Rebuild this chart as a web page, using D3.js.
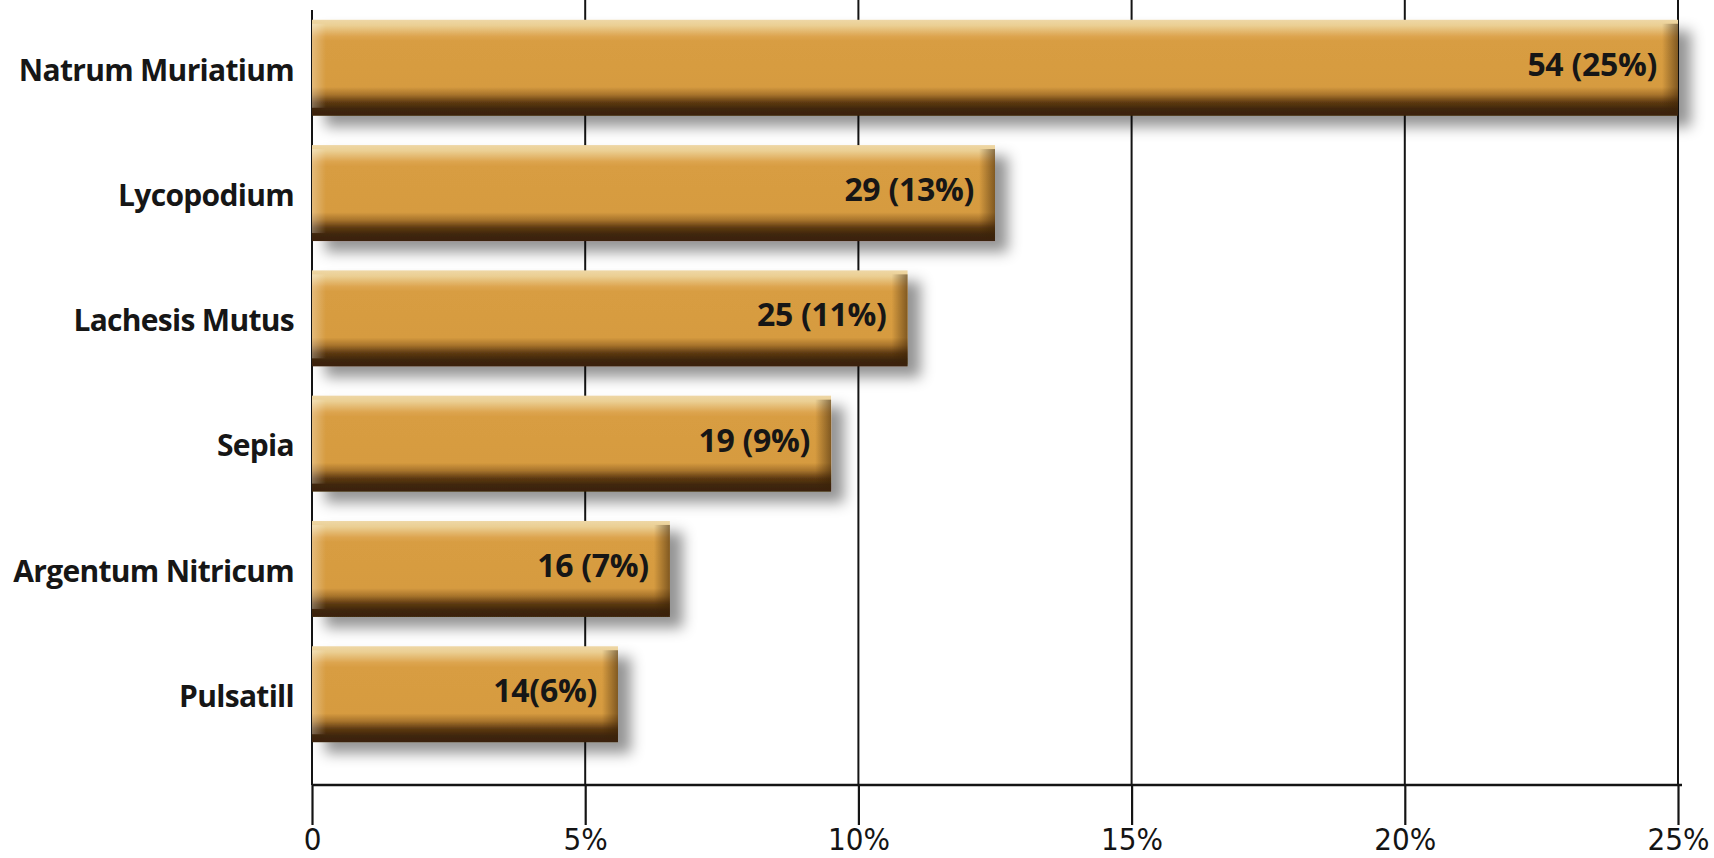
<!DOCTYPE html>
<html>
<head>
<meta charset="utf-8">
<script src="https://cdn.jsdelivr.net/npm/d3@7"></script>
<style>
  html, body { margin: 0; padding: 0; background: #fff; }
  svg { display: block; }
</style>
</head>
<body>
<svg id="chart" width="1714" height="858"></svg>
<script>
const categories = ["Natrum Muriatium", "Lycopodium", "Lachesis Mutus", "Sepia", "Argentum Nitricum", "Pulsatill"];
const barPercent = [25, 12.5, 10.9, 9.5, 6.55, 5.6];
const valueLabels = ["54 (25%)", "29 (13%)", "25 (11%)", "19 (9%)", "16 (7%)", "14(6%)"];
const tickValues = [0, 5, 10, 15, 20, 25];
const tickLabels = ["0", "5%", "10%", "15%", "20%", "25%"];

const W = 1714, H = 858;
const svg = d3.select("#chart");
const axisY = 785;

const x = d3.scaleLinear().domain([0, 25]).range([312, 1678]);
const y = d3.scaleBand().domain(categories).range([6, 756]).paddingInner(0.234).paddingOuter(0.11);

const defs = svg.append("defs");
const vg = defs.append("linearGradient").attr("id", "vgrad").attr("x1", 0).attr("y1", 0).attr("x2", 0).attr("y2", 1);
[[0, "#eed7a6"], [0.06, "#ebcf93"], [0.17, "#dda550"], [0.22, "#d89d42"], [0.70, "#d69b40"], [0.78, "#a8742c"], [0.86, "#5e3a12"], [0.93, "#3f2608"], [1, "#3a2207"]]
  .forEach(([o, c]) => vg.append("stop").attr("offset", o).attr("stop-color", c));
const lg = defs.append("linearGradient").attr("id", "lgrad").attr("x1", 0).attr("y1", 0).attr("x2", 1).attr("y2", 0);
lg.append("stop").attr("offset", 0).attr("stop-color", "#fff").attr("stop-opacity", 0.3);
lg.append("stop").attr("offset", 1).attr("stop-color", "#fff").attr("stop-opacity", 0);
const rg = defs.append("linearGradient").attr("id", "rgrad").attr("x1", 0).attr("y1", 0).attr("x2", 1).attr("y2", 0);
rg.append("stop").attr("offset", 0).attr("stop-color", "#3a2207").attr("stop-opacity", 0);
rg.append("stop").attr("offset", 1).attr("stop-color", "#3a2207").attr("stop-opacity", 0.55);
const f = defs.append("filter").attr("id", "shadow").attr("x", "-10%").attr("y", "-30%").attr("width", "130%").attr("height", "180%");
f.append("feDropShadow").attr("dx", 13).attr("dy", 11).attr("stdDeviation", 7)
  .attr("flood-color", "#000").attr("flood-opacity", 0.42);

// grid lines
svg.append("g").selectAll("line").data(tickValues).join("line")
  .attr("x1", d => x(d)).attr("x2", d => x(d))
  .attr("y1", d => d === 0 ? 10 : 0).attr("y2", axisY)
  .attr("stroke", "#141414").attr("stroke-width", 2);

// bars
const data = categories.map((c, i) => ({ c, v: barPercent[i], lab: valueLabels[i] }));
const bw = y.bandwidth();
const bars = svg.append("g").selectAll("g").data(data).join("g");
bars.append("rect")
  .attr("x", x(0)).attr("y", d => y(d.c))
  .attr("width", d => x(d.v) - x(0)).attr("height", bw)
  .attr("fill", "url(#vgrad)").attr("filter", "url(#shadow)");
bars.append("rect")
  .attr("x", x(0)).attr("y", d => y(d.c) + 4)
  .attr("width", 14).attr("height", bw - 12)
  .attr("fill", "url(#lgrad)");
bars.append("rect")
  .attr("x", d => x(d.v) - 16).attr("y", d => y(d.c) + 4)
  .attr("width", 16).attr("height", bw - 6)
  .attr("fill", "url(#rgrad)");

bars.append("text")
  .attr("x", d => x(d.v) - 21)
  .attr("y", d => y(d.c) + bw / 2 - 3.5)
  .attr("dy", "0.36em")
  .attr("text-anchor", "end")
  .attr("font-family", "'Open Sans', sans-serif")
  .attr("font-weight", 700)
  .attr("font-size", 32)
  .attr("letter-spacing", -0.3)
  .attr("fill", "#161616")
  .text(d => d.lab);

// category labels
svg.append("g").selectAll("text").data(categories).join("text")
  .attr("x", 294)
  .attr("y", d => y(d) + bw / 2 + 2)
  .attr("dy", "0.36em")
  .attr("text-anchor", "end")
  .attr("font-family", "'Open Sans', sans-serif")
  .attr("font-weight", 700)
  .attr("font-size", 30)
  .attr("letter-spacing", -0.7)
  .attr("fill", "#161616")
  .text(d => d);

// x axis
const axis = d3.axisBottom(x).tickValues(tickValues)
  .tickFormat((d, i) => tickLabels[i]).tickSize(40).tickSizeOuter(0);
const ag = svg.append("g").attr("transform", `translate(0,${axisY})`).call(axis);
ag.select(".domain").attr("stroke", "#141414").attr("stroke-width", 2.4)
  .attr("d", `M${x(0)},0H${x(25) + 4}`);
ag.selectAll(".tick line").attr("stroke", "#141414").attr("stroke-width", 2.2);
ag.selectAll(".tick text")
  .attr("y", 65).attr("dy", null)
  .attr("font-family", "'Liberation Sans Narrow', 'DejaVu Sans Condensed', sans-serif")
  .attr("font-size", 31)
  .attr("fill", "#141414");
</script>
</body>
</html>
